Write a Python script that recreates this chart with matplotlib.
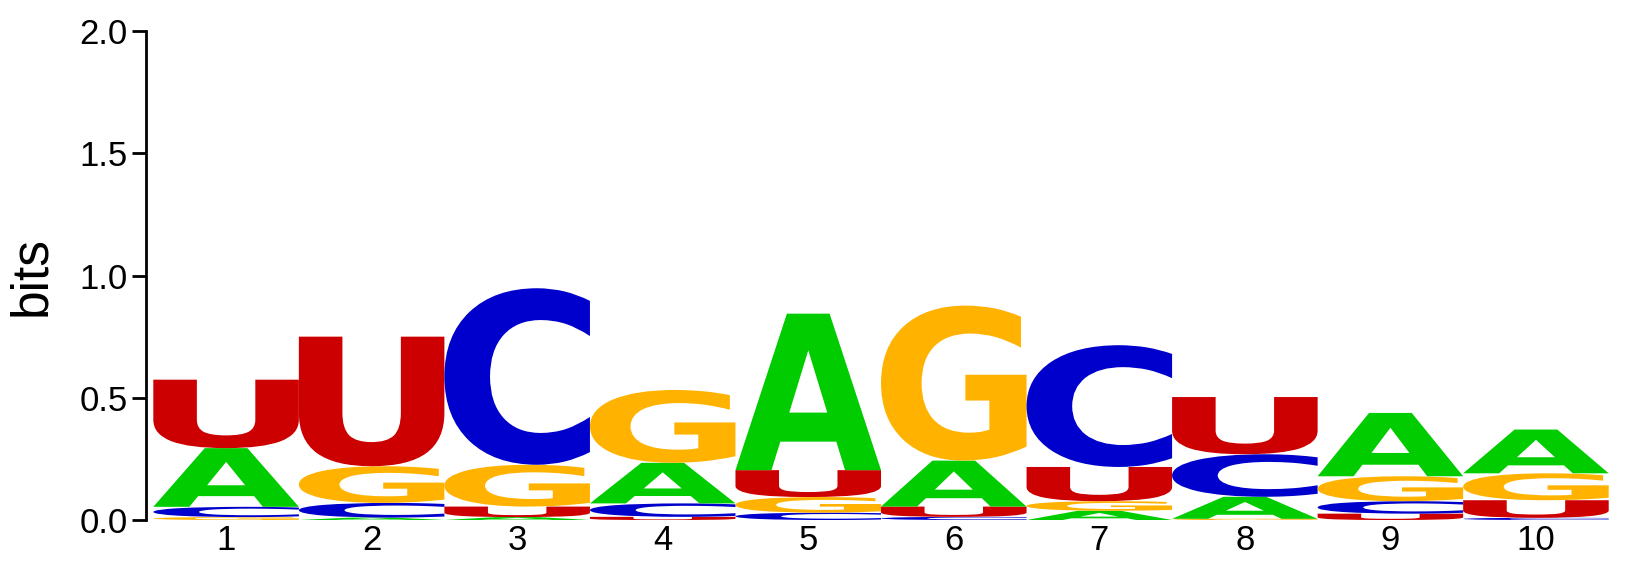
import numpy as np
import matplotlib
matplotlib.use("Agg")
import matplotlib.pyplot as plt
from matplotlib.textpath import TextPath
from matplotlib.patches import PathPatch
from matplotlib.font_manager import FontProperties
from matplotlib.transforms import Affine2D

# information content (bits) per letter, per position
positions = [1, 2, 3, 4, 5, 6, 7, 8, 9, 10]
bits_A = [0.240, 0.010, 0.012, 0.166, 0.640, 0.188, 0.038, 0.090, 0.259, 0.179]
bits_C = [0.042, 0.060, 0.722, 0.055, 0.030, 0.013, 0.498, 0.174, 0.051, 0.009]
bits_G = [0.012, 0.150, 0.171, 0.298, 0.064, 0.634, 0.039, 0.005, 0.102, 0.110]
bits_U = [0.280, 0.530, 0.043, 0.013, 0.110, 0.042, 0.140, 0.234, 0.026, 0.072]

colors = {'A': '#00cc00', 'C': '#0000cc', 'G': '#ffb300', 'U': '#cc0000'}
font = FontProperties(family='DejaVu Sans', weight='bold')


def draw_letter(ax, ch, x, y0, h, width=1.0):
    tp = TextPath((0, 0), ch, size=1, prop=font)
    bb = tp.get_extents()
    t = (Affine2D()
         .translate(-bb.x0, -bb.y0)
         .scale(width / bb.width, h / bb.height)
         .translate(x - width / 2, y0))
    path = t.transform_path(tp)
    ax.add_patch(PathPatch(path, facecolor=colors[ch], edgecolor='none'))


fig = plt.figure(figsize=(16.3, 5.65), dpi=100)
ax = fig.add_axes([0.0896, 0.0796, 0.9018, 0.8655])

for i, pos in enumerate(positions):
    stack = [('A', bits_A[i]), ('C', bits_C[i]), ('G', bits_G[i]), ('U', bits_U[i])]
    stack.sort(key=lambda s: s[1])
    y = 0.0
    for ch, h in stack:
        if h > 0:
            draw_letter(ax, ch, pos, y, h)
        y += h

ax.set_xlim(0.45, 10.55)
ax.set_ylim(0, 2.0)
ax.set_xticks(positions)
ax.set_xticklabels([str(p) for p in positions], fontsize=25, family='Liberation Sans')
ax.set_yticks([0, 0.5, 1.0, 1.5, 2.0])
ax.set_yticklabels(['0.0', '0.5', '1.0', '1.5', '2.0'], fontsize=25, family='Liberation Sans')
ax.tick_params(axis='x', length=0, pad=3)
ax.tick_params(axis='y', length=10, width=2, pad=3)
ax.set_ylabel('bits', fontsize=37, family='Liberation Sans', labelpad=17)

for s in ['top', 'right', 'bottom']:
    ax.spines[s].set_visible(False)
ax.spines['left'].set_linewidth(2)

fig.savefig('out.png', dpi=100)
